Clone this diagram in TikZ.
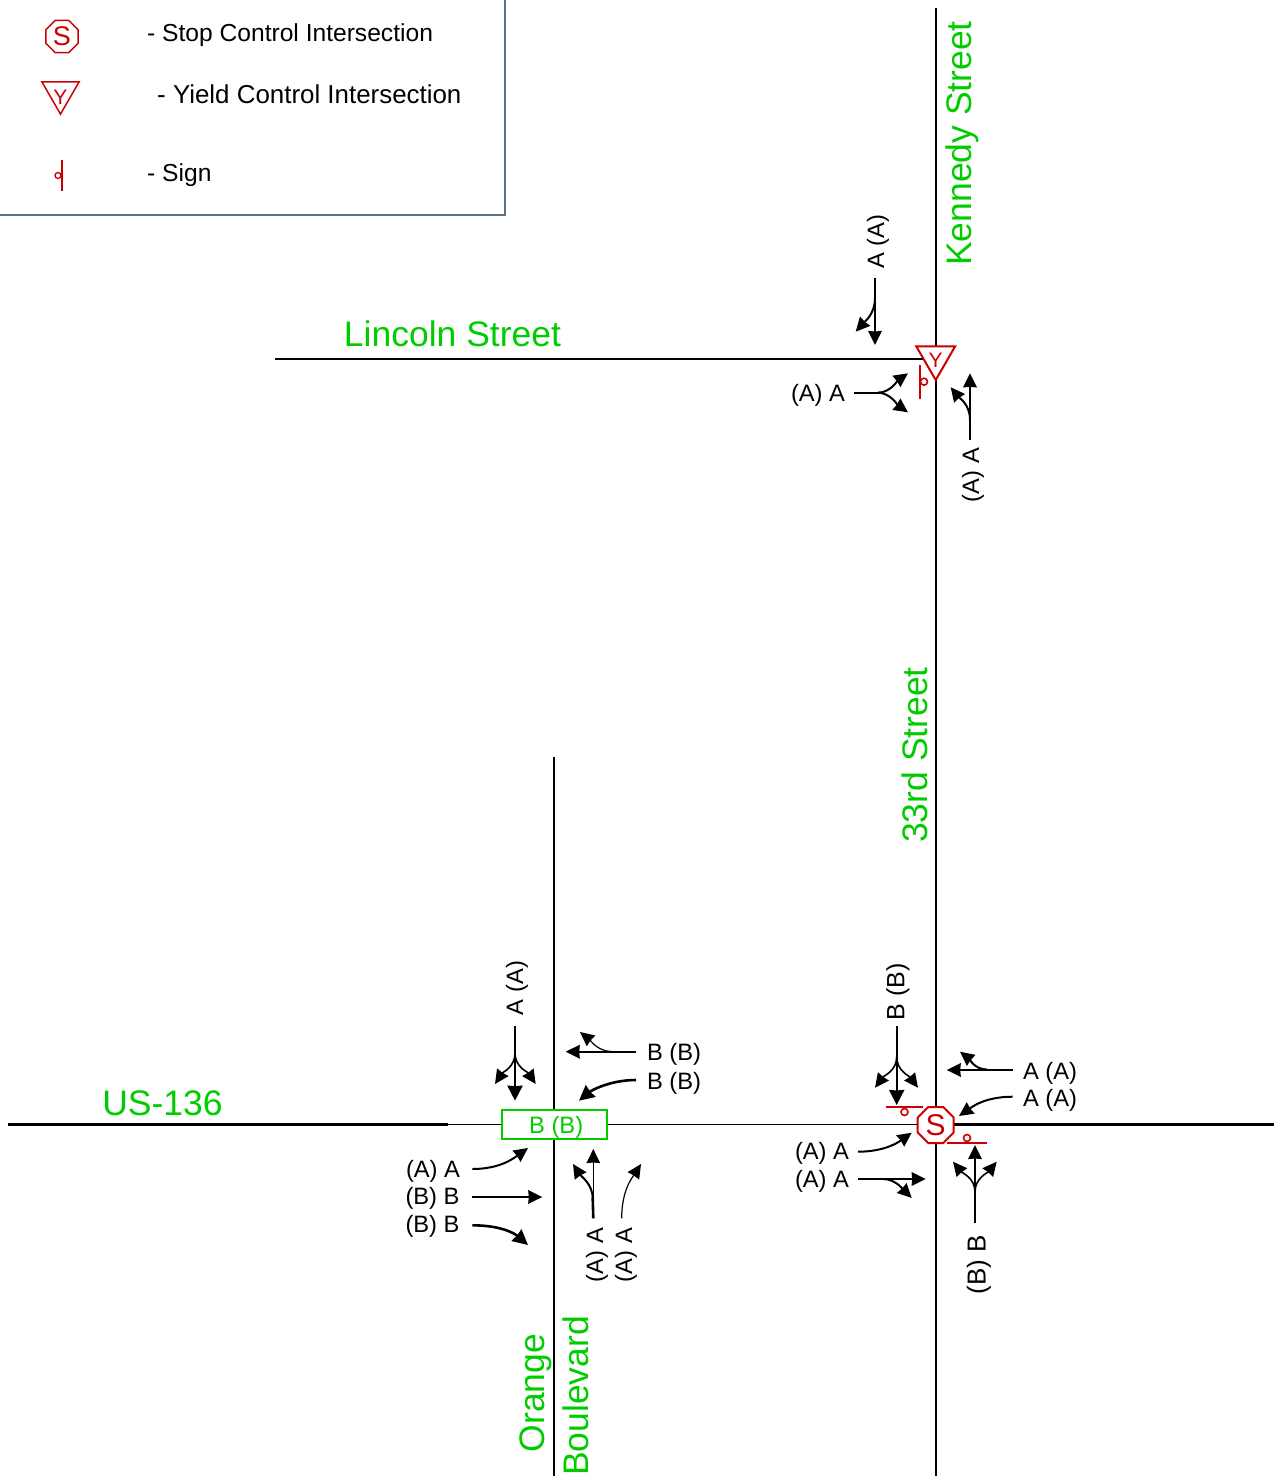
\documentclass[tikz,border=0pt]{standalone}
\usepackage{fontspec}
\usepackage{xcolor}
\setmainfont{Liberation Sans}
\usetikzlibrary{arrows.meta, positioning, shapes.geometric}
\definecolor{signred}{HTML}{CC0000}
\definecolor{roadgreen}{HTML}{00CC00}
\definecolor{legendedge}{HTML}{5F7086}

\begin{document}
\begin{tikzpicture}[
      x=1pt, y=-1pt,
      road/.style={draw=black, line width=1.4pt},
      majorroad/.style={draw=black, line width=2.4pt},
      roadname/.style={text=roadgreen, inner sep=0pt, font=\fontsize{35.5}{36}\selectfont},
      lane/.style={inner sep=0pt, font=\fontsize{23.7}{24}\selectfont},
      legendtext/.style={inner sep=0pt, anchor=west, font=\fontsize{24.6}{26}\selectfont},
      flow/.style={-{Stealth[inset=0.5pt,length=14pt,width=13.5pt]}, line width=2pt},
      bigflow/.style={-{Stealth[inset=0.5pt,length=15pt,width=15pt]}, line width=2.4pt},
      thinflow/.style={-{Stealth[inset=0.5pt,length=14pt,width=13.5pt]}, line width=1.2pt},
      signbar/.style={draw=signred, line width=2pt},
      signdot/.style={draw=signred, line width=1.6pt, circle, inner sep=0pt, minimum size=7pt},
      stopsign/.style={draw=signred, line width=2pt, fill=white, regular polygon, regular polygon sides=8, inner sep=0pt, text=signred},
      yieldsign/.style={draw=signred, line width=2pt, fill=white, regular polygon, regular polygon sides=3, shape border rotate=180, inner sep=0pt, text=signred}
    ]
      \useasboundingbox (0,0) rectangle (1282,1476);

      \coordinate (legendtop) at (505,0);
      \coordinate (legendcorner) at (505,215);
      \coordinate (legendleft) at (0,215);
      \draw[legendedge, line width=2.2pt] (legendtop) -- (legendcorner) -- (legendleft);

      \node[stopsign, minimum size=35pt, line width=1.5pt, font=\fontsize{27}{27}\selectfont] (legendstop) at (62,36.5) {S};
      \node[yieldsign, minimum size=43pt, line width=1.5pt, font=\fontsize{21}{21}\selectfont] (legendyield) at (60.5,92.6) {\raisebox{-11.5pt}[0pt][0pt]{Y}};
      \coordinate (legendsigntop) at (62,160);
      \coordinate (legendsignend) at (62,191);
      \draw[signbar, line width=1.6pt] (legendsigntop) -- (legendsignend);
      \node[signdot, minimum size=6pt, line width=1.3pt] (legenddot) at (58,175.5) {};
      \node[legendtext] (stoptext) at (147,35) {- Stop Control Intersection};
      \node[legendtext, font=\fontsize{25.9}{26}\selectfont] (yieldtext) at (157,94) {- Yield Control Intersection};
      \node[legendtext] (signtext) at (147,175) {- Sign};

      \coordinate (kennedytop) at (936,8);
      \coordinate (kennedybase) at (936,1476);
      \coordinate (lincolnend) at (275,359);
      \coordinate (lincolnjoin) at (936,359);
      \coordinate (orangetop) at (554,757);
      \coordinate (orangebase) at (554,1476);
      \coordinate (usleft) at (8,1124.5);
      \coordinate (usthin) at (448,1124.5);
      \coordinate (usjoin) at (936,1124.5);
      \coordinate (usright) at (1274,1124.5);
      \draw[road] (kennedytop) -- (kennedybase);
      \draw[road] (lincolnend) -- (lincolnjoin);
      \draw[road] (orangetop) -- (orangebase);
      \draw[majorroad] (usleft) -- (usthin);
      \draw[road] (usthin) -- (usjoin);
      \draw[majorroad] (usjoin) -- (usright);

      \node[roadname, rotate=90] (kennedy) at (962.5,143.5) {Kennedy Street};
      \node[roadname] (lincoln) at (452.5,334) {Lincoln Street};
      \node[roadname, rotate=90] (thirdrd) at (915,755) {33rd Street};
      \node[roadname] (ustext) at (162.5,1103) {US-136};
      \node[roadname, rotate=90] (orange) at (536,1393) {Orange};
      \node[roadname, rotate=90] (boulevard) at (576,1396) {Boulevard};

      \node[yieldsign, minimum size=45pt, font=\fontsize{21}{21}\selectfont] (yield) at (935.7,357.5) {\raisebox{-10pt}[0pt][0pt]{Y}};
      \coordinate (yieldbartop) at (920,365);
      \coordinate (yieldbarend) at (920,399);
      \draw[signbar] (yieldbartop) -- (yieldbarend);
      \node[signdot] (yielddot) at (924,381.7) {};

      \node[stopsign, minimum size=39pt, font=\fontsize{30}{30}\selectfont] (stop) at (935.7,1125) {S};
      \coordinate (stopbarnwa) at (886,1107);
      \coordinate (stopbarnwb) at (923,1107);
      \coordinate (stopbarsea) at (947,1143);
      \coordinate (stopbarseb) at (987,1143);
      \draw[signbar] (stopbarnwa) -- (stopbarnwb);
      \draw[signbar] (stopbarsea) -- (stopbarseb);
      \node[signdot] (stopdotnw) at (904.5,1112) {};
      \node[signdot] (stopdotse) at (967,1138) {};

      \node[draw=roadgreen, line width=1.8pt, fill=white, text=roadgreen, inner sep=0pt, minimum width=105pt, minimum height=29pt, font=\fontsize{23.7}{24}\selectfont] (signal) at (554.2,1124.5) {\raisebox{-8.5pt}[0pt][0pt]{\hspace*{4pt}B (B)}};

      \node[lane, rotate=90] (kensouth) at (878,242) {A (A)};
      \coordinate (kena) at (875,278);
      \coordinate (kenb) at (875,345);
      \coordinate (kenc) at (875,298);
      \coordinate (kend) at (855.7,331.7);
      \draw[flow] (kena) -- (kenb);
      \draw[flow] (kenc) .. controls +(0,16) and +(9,-10) .. (kend);

      \node[lane] (linceast) at (818,395) {(A) A};
      \coordinate (linca) at (854,392.7);
      \coordinate (lincb) at (878,392.7);
      \coordinate (lincc) at (908,373.3);
      \coordinate (lincd) at (908,412.3);
      \draw[line width=2pt] (linca) -- (lincb);
      \draw[flow] (lincb) .. controls +(12,0) and +(-10,7) .. (lincc);
      \draw[flow] (lincb) .. controls +(12,0) and +(-10,-7) .. (lincd);

      \node[lane, rotate=90] (kennorth) at (973,475) {(A) A};
      \coordinate (nbka) at (970,440);
      \coordinate (nbkb) at (970,373.3);
      \coordinate (nbkc) at (970,420);
      \coordinate (nbkd) at (950.7,387.3);
      \draw[flow] (nbka) -- (nbkb);
      \draw[flow] (nbkc) .. controls +(0,-16) and +(8,10) .. (nbkd);

      \node[lane, rotate=90] (orsouth) at (517,988) {A (A)};
      \coordinate (orsa) at (515,1026);
      \coordinate (orsb) at (515,1100.7);
      \coordinate (orsc) at (515,1053);
      \coordinate (orsd) at (495,1084);
      \coordinate (orse) at (535.7,1084);
      \draw[bigflow] (orsa) -- (orsb);
      \draw[thinflow, line width=1.6pt] (orsc) .. controls +(0,14) and +(8,-12) .. (orsd);
      \draw[thinflow, line width=1.6pt] (orsc) .. controls +(0,14) and +(-8,-12) .. (orse);

      \node[lane] (orwesta) at (674,1054) {B (B)};
      \node[lane] (orwestb) at (674,1083) {B (B)};
      \coordinate (orwa) at (636,1051.7);
      \coordinate (orwb) at (565.7,1051.7);
      \coordinate (orwc) at (611.7,1051.5);
      \coordinate (orwd) at (580,1032);
      \coordinate (orwe) at (636,1080);
      \coordinate (orwf) at (579,1100.7);
      \draw[flow] (orwa) -- (orwb);
      \draw[thinflow] (orwc) .. controls +(-14,0) and +(10,8) .. (orwd);
      \draw[bigflow, line width=2.6pt] (orwe) .. controls +(-26,0) and +(12,-10) .. (orwf);

      \node[lane] (oreasta) at (433,1171) {(A) A};
      \node[lane] (oreastb) at (432.5,1198.5) {(B) B};
      \node[lane] (oreastc) at (432.5,1226.5) {(B) B};
      \coordinate (orea) at (472.3,1169);
      \coordinate (oreb) at (528,1148);
      \coordinate (orec) at (472.3,1197);
      \coordinate (ored) at (542.3,1197);
      \coordinate (oree) at (472.3,1225.3);
      \coordinate (oref) at (528,1245);
      \draw[flow] (orea) .. controls +(28,0) and +(-14,10) .. (oreb);
      \draw[flow] (orec) -- (ored);
      \draw[bigflow, line width=2.6pt] (oree) .. controls +(28,0) and +(-14,-12) .. (oref);

      \node[lane, rotate=90] (ornortha) at (597,1255) {(A) A};
      \node[lane, rotate=90] (ornorthb) at (626,1255) {(A) A};
      \coordinate (orna) at (593.3,1218.3);
      \coordinate (ornb) at (593.3,1149);
      \coordinate (ornc) at (592.7,1198);
      \coordinate (ornd) at (573,1164);
      \coordinate (orne) at (621.7,1218.3);
      \coordinate (ornf) at (641,1164);
      \draw[thinflow] (orna) -- (ornb);
      \draw[line width=2.6pt] (orna) -- (ornc);
      \draw[flow] (ornc) .. controls +(0,-14) and +(7,11) .. (ornd);
      \draw[thinflow] (orne) .. controls +(0,-28) and +(-9,14) .. (ornf);

      \node[lane, rotate=90, font=\fontsize{25}{25}\selectfont] (thirdsouth) at (898,992) {B (B)};
      \coordinate (tsa) at (896.7,1026);
      \coordinate (tsb) at (896.7,1105);
      \coordinate (tsc) at (896.7,1056.7);
      \coordinate (tsd) at (875,1087.7);
      \coordinate (tse) at (918,1087.7);
      \draw[bigflow] (tsa) -- (tsb);
      \draw[flow, line width=1.6pt] (tsc) .. controls +(0,14) and +(9,-12) .. (tsd);
      \draw[flow, line width=1.6pt] (tsc) .. controls +(0,14) and +(-9,-12) .. (tse);

      \node[lane] (uswesta) at (1050,1073) {A (A)};
      \node[lane] (uswestb) at (1050,1100) {A (A)};
      \coordinate (uwa) at (1012.7,1070);
      \coordinate (uwb) at (946.7,1070);
      \coordinate (uwc) at (986.7,1069.5);
      \coordinate (uwd) at (960,1051.7);
      \coordinate (uwe) at (1012.7,1096.7);
      \coordinate (uwf) at (959,1116);
      \draw[flow] (uwa) -- (uwb);
      \draw[flow] (uwc) .. controls +(-12,0) and +(9,7) .. (uwd);
      \draw[flow] (uwe) .. controls +(-28,0) and +(13,-9) .. (uwf);

      \node[lane] (useasta) at (822,1153.5) {(A) A};
      \node[lane] (useastb) at (822,1181.5) {(A) A};
      \coordinate (uea) at (858,1151.7);
      \coordinate (ueb) at (911.7,1132.7);
      \coordinate (uec) at (858,1179);
      \coordinate (ued) at (925.7,1179);
      \coordinate (uee) at (883,1179);
      \coordinate (uef) at (911.7,1198);
      \draw[flow] (uea) .. controls +(26,0) and +(-14,10) .. (ueb);
      \draw[flow] (uec) -- (ued);
      \draw[flow] (uee) .. controls +(12,0) and +(-9,-9) .. (uef);

      \node[lane, rotate=90, font=\fontsize{26}{26}\selectfont] (thirdnorth) at (979,1265) {(B) B};
      \coordinate (tna) at (975,1222.7);
      \coordinate (tnb) at (975,1145);
      \coordinate (tnc) at (975,1192);
      \coordinate (tnd) at (953,1161.7);
      \coordinate (tne) at (996.7,1161.7);
      \draw[flow] (tna) -- (tnb);
      \draw[flow, line width=1.6pt] (tnc) .. controls +(0,-14) and +(9,11) .. (tnd);
      \draw[flow, line width=1.6pt] (tnc) .. controls +(0,-14) and +(-9,11) .. (tne);
    \end{tikzpicture}
\end{document}
